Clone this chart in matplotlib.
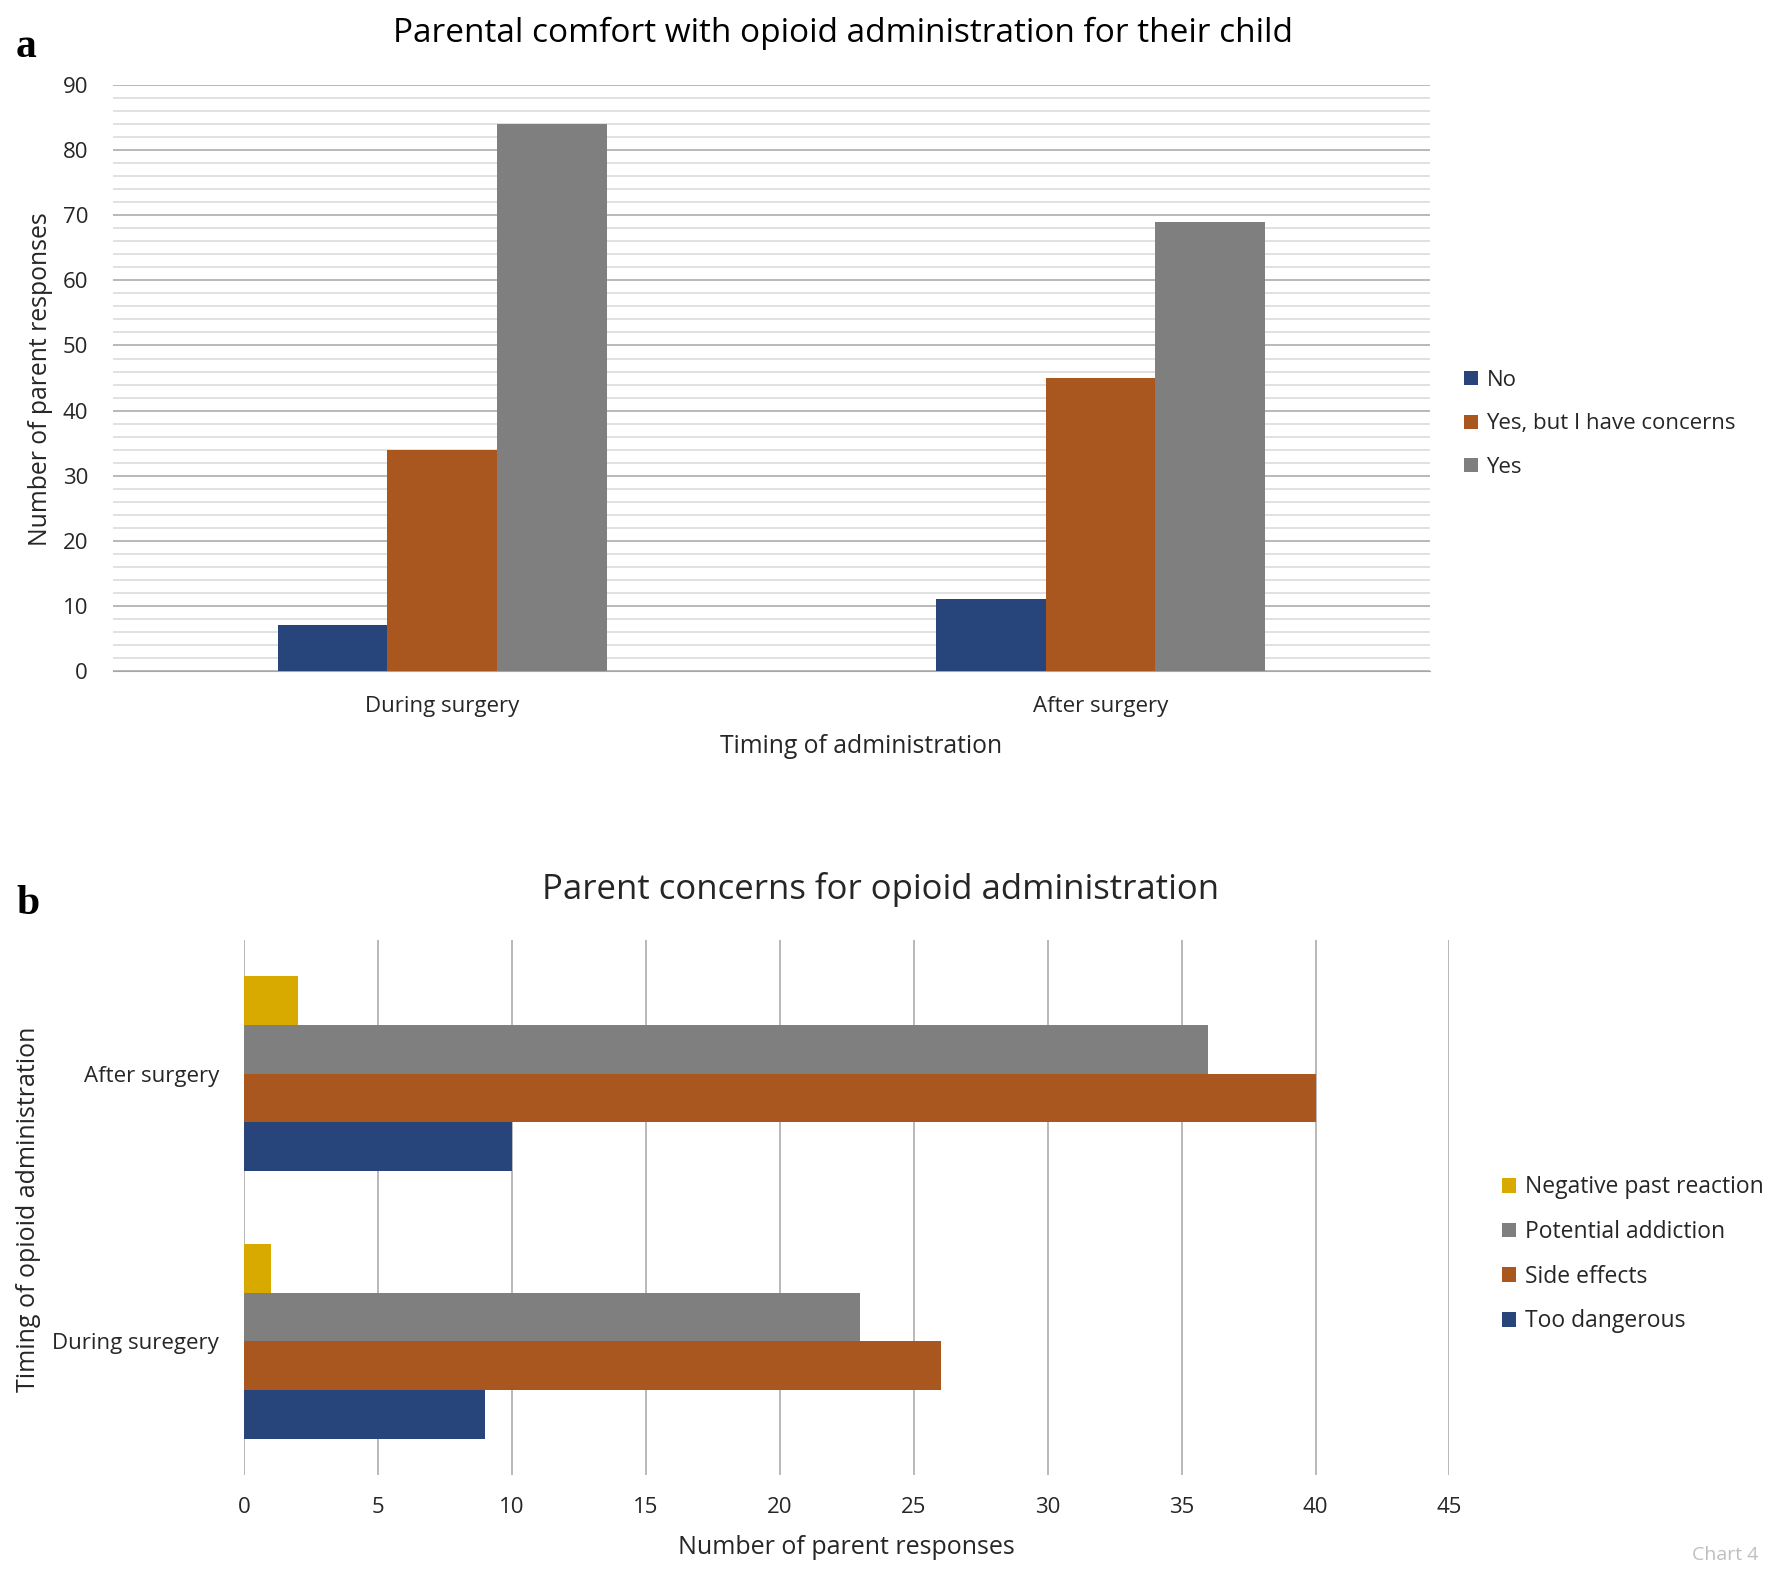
import numpy as np
import matplotlib.pyplot as plt

plt.rcParams['font.family'] = ['Open Sans', 'DejaVu Sans']

# panel a data
timing_a = ["During surgery", "After surgery"]
comfort_labels = ["No", "Yes, but I have concerns", "Yes"]
comfort_values = [[7, 11], [34, 45], [84, 69]]

# panel b data
timing_b = ["During suregery", "After surgery"]
concern_labels = ["Too dangerous", "Side effects", "Potential addiction", "Negative past reaction"]
concern_values = [[9, 10], [26, 40], [23, 36], [1, 2]]

blue = '#27457a'
orange = '#a9561f'
grey = '#7f7f7f'
gold = '#d8aa00'
text_col = '#262626'

fig = plt.figure(figsize=(17.72, 15.69), dpi=100)

# ---- panel a ----
ax1 = fig.add_axes([0.0638, 0.5723, 0.743, 0.3735])
x = np.arange(len(timing_a))
w = 0.5 / 3
cols_a = [blue, orange, grey]
for i, (lab, vals) in enumerate(zip(comfort_labels, comfort_values)):
    ax1.bar(x + (i - 1) * w, vals, width=w, color=cols_a[i], label=lab, zorder=3)
ax1.set_xlim(-0.5, 1.5)
ax1.set_ylim(0, 90)
ax1.set_yticks(np.arange(0, 91, 10))
ax1.set_yticks(np.arange(0, 91, 2), minor=True)
ax1.yaxis.grid(True, which='major', color='#b3b3b3', lw=1.3, zorder=0)
ax1.yaxis.grid(True, which='minor', color='#dcdcdc', lw=1.2, zorder=0)
ax1.set_xticks(x)
ax1.set_xticklabels(timing_a)
for s in ['top', 'right', 'left']:
    ax1.spines[s].set_visible(False)
ax1.spines['bottom'].set_color('#a6a6a6')
ax1.tick_params(which='both', length=0, labelsize=16, colors=text_col)
ax1.tick_params(axis='y', pad=18)
ax1.tick_params(axis='x', pad=18)
fig.text(0.0226, 0.7585, "Number of parent responses", fontsize=17.8, color=text_col,
         rotation=90, ha='center', va='center')
fig.text(0.486, 0.5245, "Timing of administration", fontsize=17.8, color=text_col,
         ha='center', va='center')
fig.text(0.4757, 0.979, "Parental comfort with opioid administration for their child",
         fontsize=24, color='black', ha='center', va='center')
h, l = ax1.get_legend_handles_labels()
ax1.legend(h, l, loc='center left', bbox_to_anchor=(0.815, 0.7298), bbox_transform=fig.transFigure,
           frameon=False, fontsize=16, handlelength=0.6, handleheight=0.6, handletextpad=0.4,
           labelspacing=1.0, labelcolor=text_col)

# ---- panel b ----
ax2 = fig.add_axes([0.1377, 0.0599, 0.6803, 0.341])
y = np.arange(len(timing_b))
hb = 0.182
cols_b = [blue, orange, grey, gold]
for i, (lab, vals) in enumerate(zip(concern_labels, concern_values)):
    ax2.barh(y + (i - 1.5) * hb, vals, height=hb, color=cols_b[i], label=lab, zorder=3)
ax2.set_ylim(-0.5, 1.5)
ax2.set_xlim(0, 45)
ax2.set_xticks(np.arange(0, 46, 5))
ax2.xaxis.grid(True, color='#b3b3b3', lw=1.3, zorder=0)
ax2.set_yticks(y)
ax2.set_yticklabels(timing_b)
for s in ax2.spines.values():
    s.set_visible(False)
ax2.tick_params(length=0, labelsize=16, colors=text_col)
ax2.tick_params(axis='x', pad=16)
ax2.tick_params(axis='y', pad=18)
ax2.set_xlabel("Number of parent responses", fontsize=18, color=text_col, labelpad=12)
fig.text(0.016, 0.2295, "Timing of opioid administration", fontsize=18, color=text_col,
         rotation=90, ha='center', va='center')
fig.text(0.497, 0.433, "Parent concerns for opioid administration", fontsize=25,
         color='#262626', ha='center', va='center')
h, l = ax2.get_legend_handles_labels()
ax2.legend(h[::-1], l[::-1], loc='center left', bbox_to_anchor=(0.836, 0.2005),
           bbox_transform=fig.transFigure, frameon=False, fontsize=16.5, handlelength=0.6,
           handleheight=0.6, handletextpad=0.4, labelspacing=0.9, labelcolor=text_col)

# panel letters
fig.text(0.009, 0.97, "a", fontsize=30, fontweight='bold', family='Liberation Serif', va='center')
fig.text(0.009, 0.424, "b", fontsize=30, fontweight='bold', family='Liberation Serif', va='center')
fig.text(0.955, 0.009, "Chart 4", fontsize=14, color='#bfbfbf', va='center')

fig.savefig('out.png', dpi=100)
